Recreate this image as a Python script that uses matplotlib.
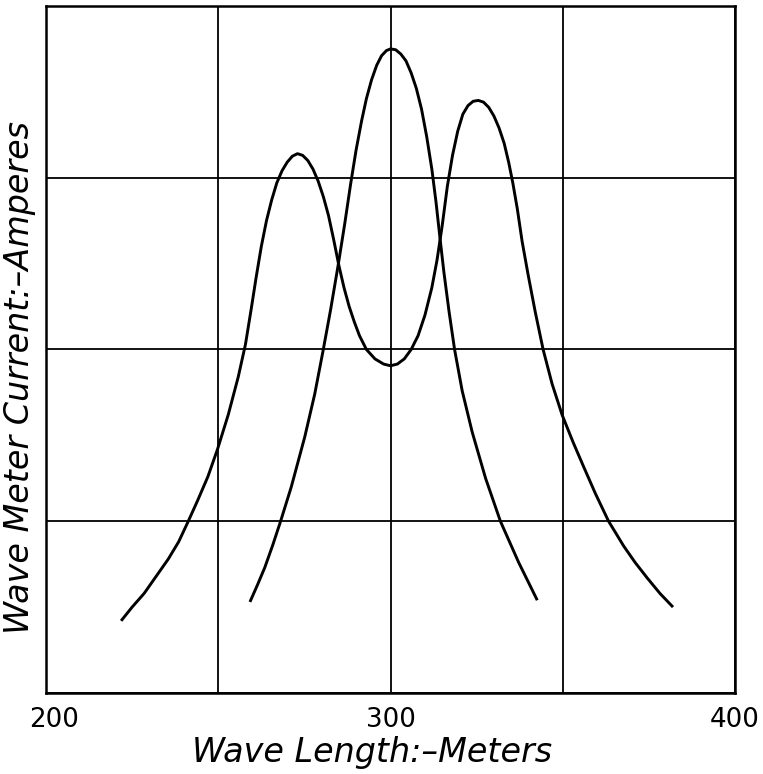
import matplotlib

matplotlib.use("Agg")
import matplotlib.pyplot as plt
from matplotlib.transforms import ScaledTranslation

# wave meter readings, two coupled circuits
# double-humped curve (close coupling)
coupled_len = [221.8, 225.0, 228.5, 232.0, 235.5, 238.5, 241.3, 244.0, 247.0, 249.8,
               252.9, 255.8, 257.9, 259.6, 261.0, 262.5, 264.0, 265.5, 267.0, 268.5,
               270.0, 271.5, 273.0, 274.5, 276.0, 277.5, 279.0, 280.5, 282.0, 283.5,
               285.0, 286.5, 288.0, 289.5, 291.0, 293.0, 295.5, 298.0, 300.0, 302.0,
               304.0, 306.0, 308.0, 310.0, 312.0, 313.5, 315.0, 316.5, 318.0, 319.5,
               321.0, 322.5, 324.0, 325.5, 327.0, 328.5, 330.0, 331.5, 333.0, 334.3,
               335.5, 336.8, 338.2, 339.9, 342.0, 344.3, 346.9, 349.8, 353.0, 356.0,
               359.5, 363.3, 367.7, 371.0, 374.5, 378.2, 382.0]
coupled_amp = [0.42, 0.50, 0.58, 0.68, 0.78, 0.88, 1.00, 1.12, 1.26, 1.42,
               1.62, 1.84, 2.03, 2.24, 2.42, 2.60, 2.75, 2.87, 2.97, 3.04,
               3.09, 3.125, 3.14, 3.13, 3.10, 3.05, 2.98, 2.89, 2.78, 2.64,
               2.49, 2.36, 2.25, 2.16, 2.08, 2.00, 1.945, 1.915, 1.905, 1.915,
               1.945, 2.00, 2.08, 2.20, 2.36, 2.52, 2.72, 2.95, 3.13, 3.27,
               3.37, 3.42, 3.445, 3.45, 3.44, 3.41, 3.36, 3.29, 3.20, 3.09,
               2.97, 2.82, 2.63, 2.44, 2.22, 2.00, 1.80, 1.62, 1.46, 1.32,
               1.16, 1.00, 0.855, 0.76, 0.67, 0.58, 0.50]

# single-peaked curve (loose coupling)
single_len = [259.2, 261.4, 263.5, 265.8, 268.1, 271.2, 275.1, 278.0, 280.4, 282.6,
              284.8, 286.7, 288.4, 290.0, 291.6, 293.0, 294.5, 296.0, 297.4, 298.8,
              300.0, 301.5, 303.0, 304.5, 306.0, 307.5, 309.0, 310.5, 312.0, 313.2,
              314.3, 315.5, 317.0, 318.6, 320.8, 323.7, 327.6, 331.9, 337.2, 342.6]
single_amp = [0.53, 0.63, 0.73, 0.86, 1.00, 1.20, 1.49, 1.74, 1.99, 2.23,
              2.49, 2.73, 2.96, 3.16, 3.33, 3.46, 3.57, 3.655, 3.71, 3.74,
              3.75, 3.745, 3.72, 3.68, 3.61, 3.52, 3.40, 3.24, 3.05, 2.86,
              2.66, 2.45, 2.22, 2.00, 1.76, 1.52, 1.25, 1.00, 0.76, 0.54]

x_ticks = [200, 250, 300, 350, 400]
x_tick_labels = ["200", "", "300", "", "400"]
y_ticks = [0, 1, 2, 3, 4]

fig = plt.figure(figsize=(7.63, 7.74), dpi=100)
ax = fig.add_axes([0.0603, 0.1047, 0.903, 0.8876])

ax.plot(coupled_len, coupled_amp, color="black", lw=2.1, solid_joinstyle="round",
        solid_capstyle="butt")
ax.plot(single_len, single_amp, color="black", lw=2.1, solid_joinstyle="round",
        solid_capstyle="butt")

ax.set_xlim(200, 400)
ax.set_ylim(0, 4)
ax.set_xticks(x_ticks)
ax.set_xticklabels(x_tick_labels, fontsize=18.8, family="DejaVu Sans")
ax.set_yticks(y_ticks)
ax.set_yticklabels([])
ax.tick_params(length=0, pad=10)
ax.grid(True, color="black", lw=1.3)
for s in ax.spines.values():
    s.set_linewidth(1.8)

# first label sits a little right of the frame corner
lbl0 = ax.get_xticklabels()[0]
lbl0.set_transform(lbl0.get_transform() + ScaledTranslation(0.08, 0, fig.dpi_scale_trans))

fig.text(372 / 763, 12 / 774, "Wave Length:\u2013Meters", fontsize=24, style="italic",
         family="DejaVu Sans", ha="center", va="baseline")
fig.text(20 / 763, 1 - 378 / 774, "Wave Meter Current:\u2013Amperes", fontsize=24,
         style="italic", family="DejaVu Sans", rotation=90, ha="center", va="center")

fig.savefig("out.png", dpi=100, facecolor="white")
